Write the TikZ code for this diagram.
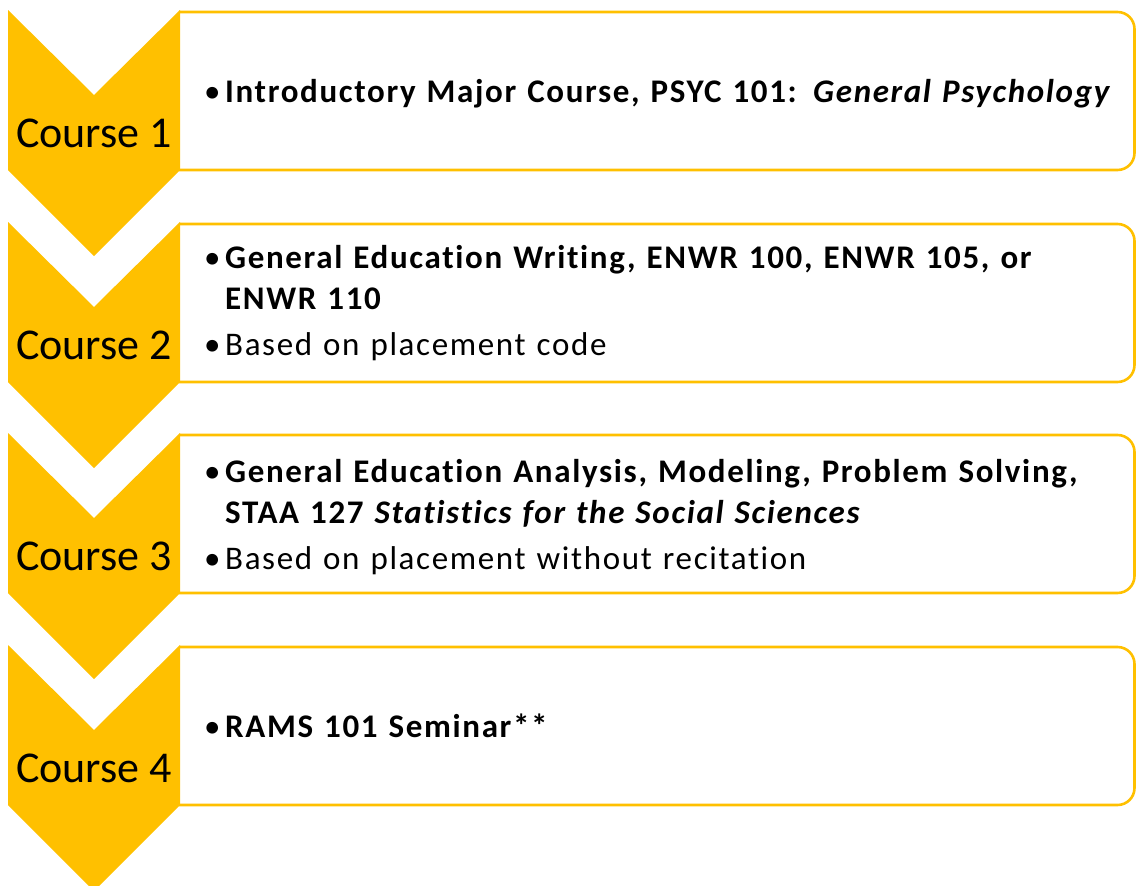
\documentclass[tikz,border=0pt]{standalone}
\usepackage{fontspec}
\setmainfont{Carlito}
\newfontfamily\bodyfont[LetterSpace=5,RawFeature={-liga}]{Carlito}
\definecolor{gold}{HTML}{FFC000}
\newcommand{\bul}{\makebox[20pt][l]{\hspace{-1pt}•}}
\newcommand{\contline}{\hspace*{20pt}}
\begin{document}
\begin{tikzpicture}[x=1pt,y=-1pt,
  chev/.style={fill=gold,draw=none},
  card/.style={fill=white,draw=gold,line width=2.6pt,rounded corners=17pt},
  lab/.style={font=\fontsize{44}{50}\selectfont,anchor=base,inner sep=0pt},
  txt/.style={font=\bodyfont\fontsize{33}{41}\selectfont,anchor=base west,inner sep=0pt,
    text width=930pt,align=left}]
\useasboundingbox (0,0) rectangle (1136,886);
\begin{scope}
\clip (179,0) rectangle (1136,886);
\foreach \i/\yy in {1/10,2/222,3/433,4/645}{
  \draw[card] (130,\yy+2) rectangle (1134.5,\yy+160);
}
\end{scope}
\begin{scope}
\clip (0,0) rectangle (1136,886);
\foreach \i/\yy in {1/10,2/222,3/433,4/645}{
  \fill[chev] (8,\yy) -- (94,\yy+85) -- (180,\yy) -- (180,\yy+160) -- (94,\yy+246) -- (8,\yy+160) -- cycle;
}
\end{scope}
\node[lab] (c1) at (94,147) {Course 1};
\node[lab] (c2) at (94,359) {Course 2};
\node[lab] (c3) at (94,570) {Course 3};
\node[lab] (c4) at (94,782) {Course 4};
\node[txt] (t1) at (205,102) {\bul\textbf{Introductory Major Course, PSYC 101: \textit{General Psychology}}};
\node[txt] (t2) at (205,268) {\setlength{\parskip}{0pt}\setlength{\parindent}{0pt}%
  \bul\textbf{General Education Writing, ENWR 100, ENWR 105, or}\par
  \contline\textbf{ENWR 110}\par\vspace{5pt}
  \bul Based on placement code};
\node[txt] (t3) at (205,482) {\setlength{\parskip}{0pt}\setlength{\parindent}{0pt}%
  \bul\textbf{General Education Analysis, Modeling, Problem Solving,}\par
  \contline\textbf{STAA 127 \textit{Statistics for the Social Sciences}}\par\vspace{5pt}
  \bul Based on placement without recitation};
\node[txt] (t4) at (205,737) {\bul\textbf{RAMS 101 Seminar**}};
\end{tikzpicture}
\end{document}
